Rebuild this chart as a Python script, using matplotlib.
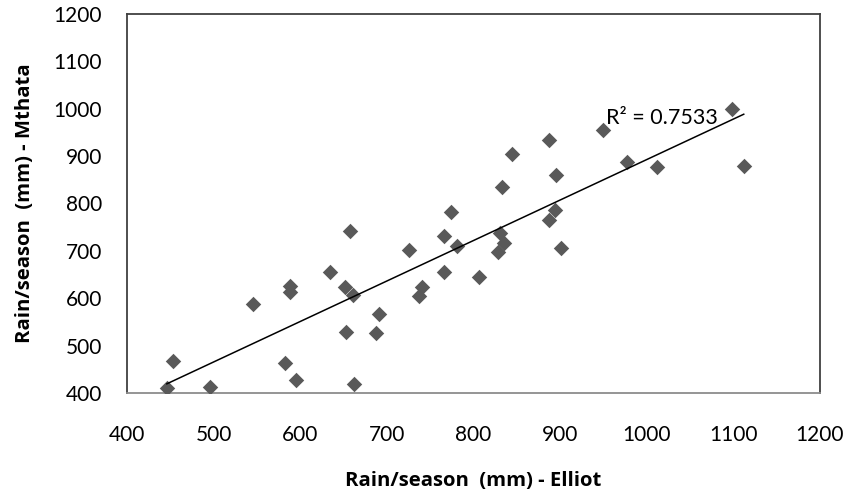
import numpy as np
import matplotlib.pyplot as plt

plt.rcParams['font.family'] = ['Lato', 'DejaVu Sans']

# seasonal rainfall (mm)
elliot = [446, 453, 496, 546, 582, 595, 588, 588, 634, 657, 652, 661, 653, 662,
          691, 688, 726, 740, 737, 766, 774, 781, 766, 806, 833, 844, 831, 835,
          828, 887, 895, 894, 887, 901, 949, 977, 1012, 1098, 1112]
mthata = [411, 468, 413, 588, 464, 427, 626, 614, 656, 742, 623, 607, 528, 418,
          567, 526, 702, 624, 605, 732, 782, 710, 656, 644, 834, 904, 738, 717,
          698, 934, 860, 787, 765, 705, 956, 887, 877, 1000, 879]
r2_label = "R² = 0.7533"

x = np.array(elliot)
y = np.array(mthata)
slope, intercept = np.polyfit(x, y, 1)

fig = plt.figure(figsize=(8.49, 4.97), dpi=100)
ax = fig.add_axes([0.1496, 0.2093, 0.8162, 0.7625])

ax.scatter(x, y, marker='D', s=62, color='#595959', linewidths=0, zorder=3)
xs = np.array([x.min(), x.max()])
ax.plot(xs, slope * xs + intercept, color='black', lw=1.1, zorder=4)
ax.text(953, 980, r2_label, fontsize=15.5, va='center', ha='left', zorder=5)

ax.set_xlim(400, 1200)
ax.set_ylim(400, 1200)
ax.set_xticks(range(400, 1201, 100))
ax.set_yticks(range(400, 1201, 100))
ax.tick_params(length=0, labelsize=15)
ax.tick_params(axis='x', pad=23)
ax.tick_params(axis='y', pad=18)

for side in ['left', 'top', 'right']:
    ax.spines[side].set_color('#404040')
    ax.spines[side].set_linewidth(1.3)
ax.spines['bottom'].set_color('#8c8c8c')
ax.spines['bottom'].set_linewidth(1.3)

label_font = dict(family=['Open Sans', 'DejaVu Sans'], fontsize=14.6, fontweight='bold')
ax.set_xlabel("Rain/season  (mm) - Elliot", labelpad=19, **label_font)
ax.set_ylabel("Rain/season  (mm) - Mthata", labelpad=13, **label_font)

fig.savefig("out.png", dpi=100)
